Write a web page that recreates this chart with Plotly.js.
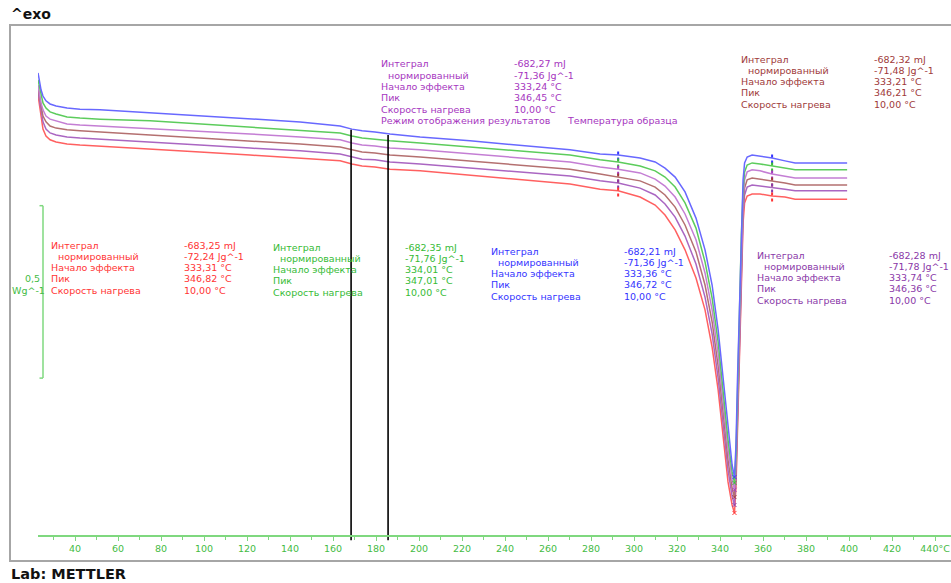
<!DOCTYPE html>
<html><head><meta charset="utf-8">
<script src="https://cdn.plot.ly/plotly-3.0.1.min.js"></script>
<style>html,body{margin:0;padding:0;background:#fff;overflow:hidden;} #chart{width:951px;height:583px;}</style>
</head><body><div id="chart"></div>
<script>
// ---- data (temperature in °C, heat flow in W/g) ----
const temperatureC = [22.8,23.5,24.2,25.1,26.5,28.4,31.2,36.3,42.3,51.6,
  74.9,98.1,121.4,144.7,163.3,168.8,173.5,179.5,186.5,200.5,
  223.7,247.0,270.2,284.2,292.6,302.8,309.8,314.4,319.1,323.7,
  328.8,333.0,336.3,339.1,341.4,343.7,345.6,346.7,347.4,348.1,
  349.0,349.9,350.7,351.4,352.6,354.9,358.6,364.2,370.2,374.9,
  386.5,399.1];
const blueWg = [1.340,1.314,1.291,1.273,1.259,1.250,1.244,1.238,1.235,1.233,
  1.224,1.215,1.206,1.198,1.186,1.177,1.172,1.169,1.163,1.154,
  1.143,1.131,1.117,1.105,1.102,1.093,1.082,1.064,1.038,0.995,
  0.919,0.827,0.725,0.595,0.450,0.305,0.203,0.168,0.261,0.450,
  0.682,0.899,1.030,1.079,1.096,1.102,1.099,1.093,1.085,1.079,
  1.079,1.079];
const greenWg = [1.320,1.296,1.273,1.253,1.238,1.227,1.221,1.212,1.209,1.206,
  1.201,1.192,1.183,1.175,1.166,1.157,1.151,1.148,1.143,1.137,
  1.125,1.114,1.102,1.088,1.082,1.070,1.056,1.038,1.009,0.963,
  0.890,0.792,0.687,0.560,0.421,0.276,0.183,0.151,0.232,0.421,
  0.653,0.870,1.001,1.053,1.073,1.079,1.076,1.070,1.064,1.059,
  1.059,1.059];
const magentaWg = [1.305,1.279,1.253,1.233,1.215,1.206,1.201,1.192,1.189,1.186,
  1.180,1.172,1.163,1.154,1.146,1.137,1.131,1.128,1.122,1.117,
  1.105,1.093,1.082,1.067,1.061,1.050,1.032,1.012,0.980,0.931,
  0.856,0.760,0.653,0.525,0.392,0.247,0.160,0.131,0.212,0.392,
  0.624,0.841,0.977,1.030,1.053,1.059,1.056,1.047,1.041,1.035,
  1.035,1.035];
const brownWg = [1.296,1.267,1.238,1.215,1.198,1.186,1.180,1.175,1.172,1.169,
  1.160,1.151,1.143,1.134,1.125,1.117,1.111,1.108,1.102,1.096,
  1.085,1.073,1.061,1.047,1.038,1.027,1.009,0.986,0.951,0.899,
  0.821,0.725,0.618,0.490,0.357,0.218,0.136,0.110,0.189,0.363,
  0.595,0.812,0.954,1.006,1.030,1.035,1.032,1.027,1.021,1.015,
  1.015,1.015];
const purpleWg = [1.288,1.256,1.224,1.198,1.177,1.166,1.160,1.154,1.151,1.148,
  1.140,1.131,1.122,1.114,1.105,1.096,1.090,1.088,1.082,1.076,
  1.064,1.053,1.041,1.027,1.021,1.006,0.986,0.960,0.922,0.867,
  0.786,0.690,0.583,0.455,0.322,0.189,0.113,0.087,0.165,0.334,
  0.566,0.783,0.931,0.986,1.009,1.015,1.012,1.009,1.003,0.998,
  0.998,0.998];
const redWg = [1.276,1.241,1.206,1.177,1.157,1.146,1.140,1.134,1.131,1.128,
  1.119,1.111,1.102,1.093,1.085,1.076,1.070,1.067,1.061,1.056,
  1.044,1.032,1.018,1.003,0.998,0.980,0.957,0.928,0.885,0.827,
  0.745,0.653,0.545,0.421,0.287,0.154,0.087,0.064,0.139,0.305,
  0.537,0.754,0.905,0.963,0.983,0.989,0.989,0.983,0.980,0.974,
  0.974,0.974];

// evaluation results (order: blue, green, magenta, brown, purple, red)
const integralMJ = [-682.21, -682.35, -682.27, -682.32, -682.28, -683.25];
const normalizedJg = [-71.36, -71.76, -71.36, -71.48, -71.78, -72.24];
const onsetC = [333.36, 334.01, 333.24, 333.21, 333.74, 333.31];
const peakC = [346.72, 347.01, 346.45, 346.21, 346.36, 346.82];
const heatingRate = [10.00, 10.00, 10.00, 10.00, 10.00, 10.00];
const rowLabels = ["Интеграл", "нормированный", "Начало эффекта", "Пик", "Скорость нагрева"];
const modeLabel = ["Режим отображения результатов", "Температура образца"];

const limitsC = [292.6, 364.2];        // integration limits
const cursorC = [168.4, 185.6];        // black cursor lines
const cursorTopWg = [1.175, 1.160];
const cursorBottomWg = -0.015;
const scaleBarWg = [0.455, 0.955];     // 0,5 W/g bar
const xTicks = [40,60,80,100,120,140,160,180,200,220,240,260,280,300,320,340,360,380,400,420,440];
const xTickText = ["40","60","80","100","120","140","160","180","200","220","240","260","280","300","320","340","360","380","400","420","440°C"];

// ---- styling ----
const seriesY = [blueWg, greenWg, magentaWg, brownWg, purpleWg, redWg];
const lineColors = ["#6868ff", "#5ccc5c", "#c47ed4", "#b47070", "#aa66c2", "#ff6060"];
const textColors = ["#3434ff", "#36bb36", "#a636c0", "#a03a3a", "#8a38a8", "#ff3434"];
const axisGreen = "#7fd87f";
const FONT = "DejaVu Sans";

const L = 38, TOP = 25, W = 913, H = 537;
const px = v => (v - L) / W;
const py = v => (TOP + H - v) / H;

const traces = [];
for (let k = seriesY.length - 1; k >= 0; k--) {
  traces.push({x: temperatureC, y: seriesY[k], type: "scatter", mode: "lines",
    line: {color: lineColors[k], width: 1.5}, hoverinfo: "skip", showlegend: false});
}
for (let k = 0; k < seriesY.length; k++) {
  const xs = [], ys = [];
  limitsC.forEach(t => {
    const i = temperatureC.indexOf(t);
    xs.push(t, t, null); ys.push(seriesY[k][i] - 0.016, seriesY[k][i] + 0.016, null);
  });
  traces.push({x: xs, y: ys, type: "scatter", mode: "lines",
    line: {color: textColors[k], width: 2, dash: "dot"}, hoverinfo: "skip", showlegend: false});
  const ymin = Math.min(...seriesY[k]);
  const imin = seriesY[k].indexOf(ymin);
  traces.push({x: [temperatureC[imin]], y: [ymin], type: "scatter", mode: "markers",
    marker: {symbol: "x-thin", size: 4, line: {color: textColors[k], width: 1}}, hoverinfo: "skip", showlegend: false});
}
cursorC.forEach((t, i) => {
  traces.push({x: [t, t], y: [cursorTopWg[i], cursorBottomWg], type: "scatter", mode: "lines",
    line: {color: "#000", width: 1.6}, hoverinfo: "skip", showlegend: false});
});

const fmt = v => v.toFixed(2).replace(".", ",");
const annotations = [];
function txt(text, x, y, color, extra) {
  annotations.push(Object.assign({text: text, xref: "paper", yref: "paper", x: px(x), y: py(y),
    xanchor: "left", yanchor: "middle", showarrow: false,
    font: {family: FONT, size: 9.5, color: color}}, extra || {}));
}
const blocks = [
  {k: 5, lx: 49, vx: 182, ty: 245},
  {k: 1, lx: 271, vx: 403, ty: 247},
  {k: 0, lx: 489, vx: 622, ty: 251},
  {k: 4, lx: 755, vx: 887, ty: 255},
  {k: 2, lx: 379, vx: 512, ty: 64},
  {k: 3, lx: 739, vx: 872, ty: 59}
];
const ROW = 11.3;
blocks.forEach(b => {
  const k = b.k, c = textColors[k];
  const vals = [fmt(integralMJ[k]) + " mJ", fmt(normalizedJg[k]) + " Jg^-1",
    fmt(onsetC[k]) + " °C", fmt(peakC[k]) + " °C", fmt(heatingRate[k]) + " °C"];
  rowLabels.forEach((lab, i) => {
    txt(lab, b.lx + (i === 1 ? 7 : 0), b.ty + i * ROW, c);
    txt(vals[i], b.vx, b.ty + i * ROW, c);
  });
  if (k === 2) {
    txt(modeLabel[0], b.lx, b.ty + 5 * ROW, c);
    txt(modeLabel[1], 565, b.ty + 5 * ROW, c);
  }
});
txt("0,5", 42, 278, "#44bb44", {xanchor: "right"});
txt("Wg^-1", 47, 290, "#44bb44", {xanchor: "right"});
txt("<b>^exo</b>", 9, 14, "#111", {font: {family: FONT, size: 14, color: "#111"}});
txt("<b>Lab: METTLER</b>", 9, 574, "#111", {font: {family: FONT, size: 14.5, color: "#111"}});

const shapes = [
  {type: "rect", xref: "paper", yref: "paper", x0: px(10), x1: 1.05, y0: py(561), y1: py(25),
    line: {color: "#a6a6a6", width: 2}, layer: "below"},
  {type: "line", xref: "paper", yref: "y", x0: px(43), x1: px(43), y0: scaleBarWg[0], y1: scaleBarWg[1],
    line: {color: axisGreen, width: 1.5}},
  {type: "line", xref: "paper", yref: "y", x0: px(39.5), x1: px(43), y0: scaleBarWg[0], y1: scaleBarWg[0],
    line: {color: axisGreen, width: 1.5}},
  {type: "line", xref: "paper", yref: "y", x0: px(39.5), x1: px(43), y0: scaleBarWg[1], y1: scaleBarWg[1],
    line: {color: axisGreen, width: 1.5}}
];

const layout = {
  width: 951, height: 583,
  margin: {l: L, r: 0, t: TOP, b: 583 - TOP - H, pad: 0},
  paper_bgcolor: "#fff", plot_bgcolor: "rgba(0,0,0,0)",
  showlegend: false,
  xaxis: {range: [22.79, 447.4], anchor: "free", position: 27 / H, automargin: false,
    showline: true, linecolor: axisGreen, linewidth: 1.5,
    tickmode: "array", tickvals: xTicks, ticktext: xTickText,
    ticks: "outside", ticklen: 4, tickcolor: axisGreen, tickwidth: 1,
    minor: {ticks: "outside", ticklen: 3, tickcolor: axisGreen, dtick: 10, tick0: 30, showgrid: false},
    tickfont: {family: FONT, size: 9.5, color: "#44bb44"},
    showgrid: false, zeroline: false, fixedrange: true},
  yaxis: {range: [-0.0783, 1.479], visible: false, showgrid: false, zeroline: false, fixedrange: true},
  shapes: shapes,
  annotations: annotations
};
Plotly.newPlot("chart", traces, layout, {staticPlot: true, displayModeBar: false});
</script>
</body></html>
